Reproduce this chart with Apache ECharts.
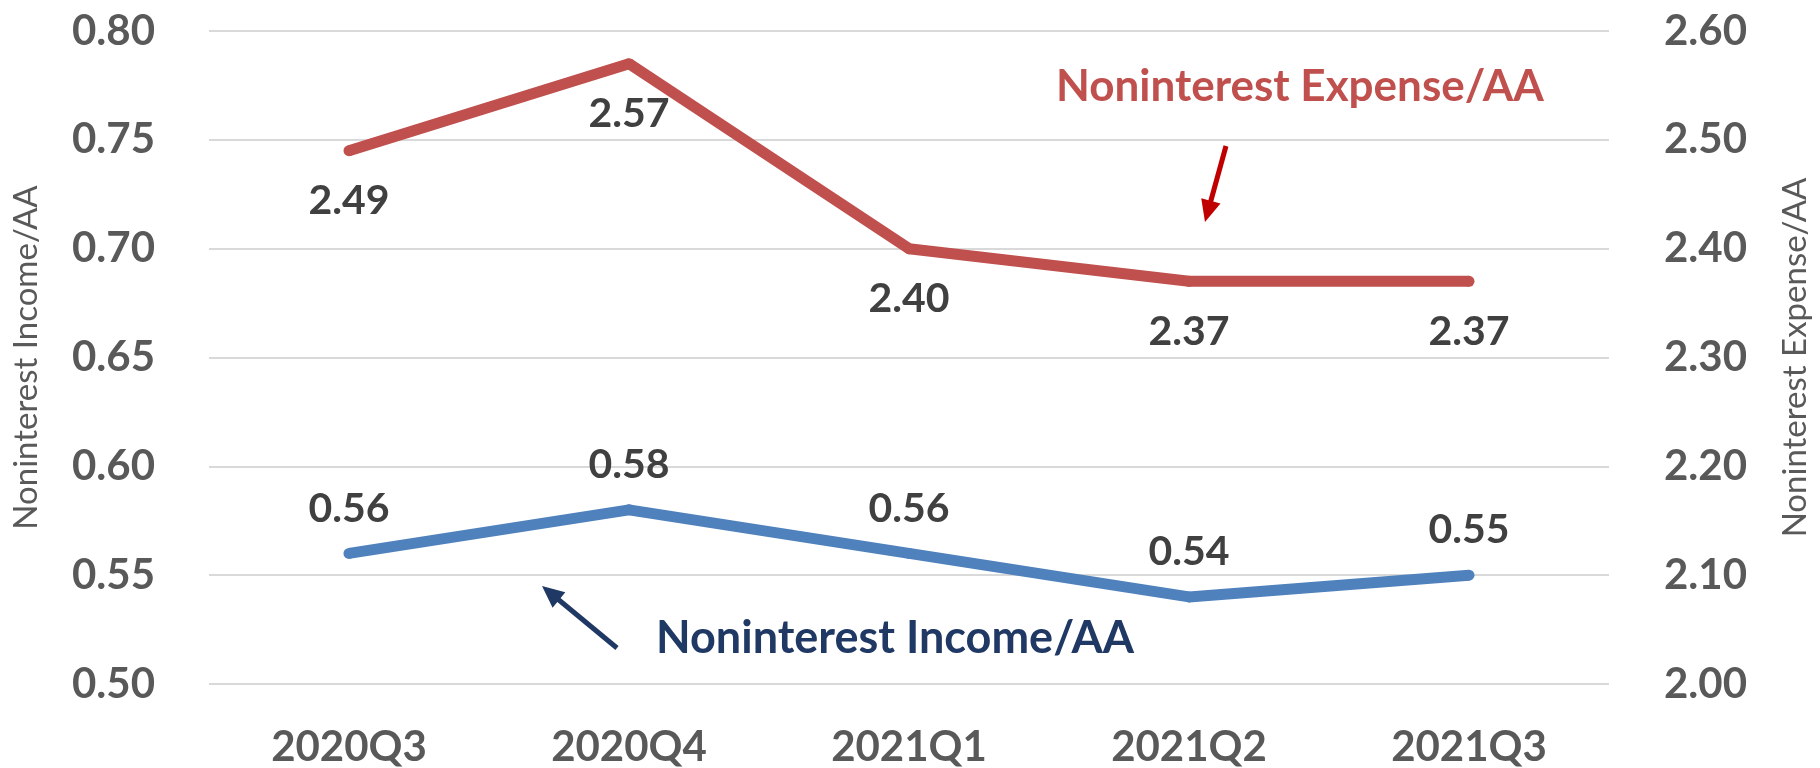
<!DOCTYPE html>
<html>
<head>
<meta charset="utf-8">
<title>Noninterest Income / Expense</title>
<script src="https://cdn.jsdelivr.net/npm/echarts@6/dist/echarts.min.js"></script>
<style>
  html, body { margin: 0; padding: 0; background: #ffffff; }
  #chart_main { width: 1820px; height: 768px; }
</style>
</head>
<body>
<div id="chart_main"></div>
<script>
// data
const quarters = ["2020Q3", "2020Q4", "2021Q1", "2021Q2", "2021Q3"];
const incomeAA = [0.56, 0.58, 0.56, 0.54, 0.55];
const expenseAA = [2.49, 2.57, 2.40, 2.37, 2.37];
const leftTicks = { min: 0.5, max: 0.8, step: 0.05 };
const rightTicks = { min: 2.0, max: 2.6, step: 0.1 };

const FONT = "Lato";
const GRAY = "#595959";

// arrow = line + triangle head, tail -> tip
function arrow(x1, y1, x2, y2, color) {
  let dx = x2 - x1, dy = y2 - y1;
  let len = Math.sqrt(dx * dx + dy * dy);
  let ux = dx / len, uy = dy / len;
  let head = 22, half = 10;
  let bx = x2 - ux * head, by = y2 - uy * head;
  return {
    type: "group",
    children: [
      {
        type: "line",
        shape: { x1: x1, y1: y1, x2: bx + ux * 2, y2: by + uy * 2 },
        style: { stroke: color, lineWidth: 5 }
      },
      {
        type: "polygon",
        shape: {
          points: [
            [x2, y2],
            [bx - uy * half, by + ux * half],
            [bx + uy * half, by - ux * half]
          ]
        },
        style: { fill: color }
      }
    ]
  };
}

let myChart = echarts.init(document.getElementById("chart_main"));
let option = {
  backgroundColor: "#ffffff",
  animation: false,
  grid: { left: 209, right: 200, top: 31, bottom: 83 },
  xAxis: {
    type: "category",
    data: quarters,
    boundaryGap: true,
    axisLine: { show: false },
    axisTick: { show: false },
    axisLabel: {
      margin: 42,
      color: GRAY,
      fontFamily: FONT,
      fontWeight: "bold",
      fontSize: 42
    }
  },
  yAxis: [
    {
      type: "value",
      min: leftTicks.min,
      max: leftTicks.max,
      interval: leftTicks.step,
      name: "Noninterest Income/AA",
      nameLocation: "middle",
      nameGap: 166,
      nameTextStyle: { color: GRAY, fontFamily: FONT, fontSize: 33 },
      axisLine: { show: false },
      axisTick: { show: false },
      axisLabel: {
        margin: 54,
        color: GRAY,
        fontFamily: FONT,
        fontWeight: "bold",
        fontSize: 42,
        formatter: function (v) { return v.toFixed(2); }
      },
      splitLine: { lineStyle: { color: "#d9d9d9", width: 2 } }
    },
    {
      type: "value",
      position: "right",
      min: rightTicks.min,
      max: rightTicks.max,
      interval: rightTicks.step,
      name: "Noninterest Expense/AA",
      nameLocation: "middle",
      nameGap: 170,
      nameTextStyle: { color: GRAY, fontFamily: FONT, fontSize: 33 },
      axisLine: { show: false },
      axisTick: { show: false },
      axisLabel: {
        margin: 55,
        color: GRAY,
        fontFamily: FONT,
        fontWeight: "bold",
        fontSize: 42,
        formatter: function (v) { return v.toFixed(2); }
      },
      splitLine: { show: false }
    }
  ],
  series: [
    {
      name: "Noninterest Income/AA",
      type: "line",
      yAxisIndex: 0,
      data: incomeAA,
      symbol: "circle",
      symbolSize: 11,
      itemStyle: { color: "#4f81bd" },
      lineStyle: { color: "#4f81bd", width: 11 },
      label: {
        show: true,
        position: "top",
        distance: 19,
        color: "#404040",
        fontFamily: FONT,
        fontWeight: "bold",
        fontSize: 41,
        formatter: function (p) { return p.value.toFixed(2); }
      }
    },
    {
      name: "Noninterest Expense/AA",
      type: "line",
      yAxisIndex: 1,
      data: expenseAA,
      symbol: "circle",
      symbolSize: 11,
      itemStyle: { color: "#c0504d" },
      lineStyle: { color: "#c0504d", width: 11 },
      label: {
        show: true,
        position: "bottom",
        distance: 24,
        color: "#404040",
        fontFamily: FONT,
        fontWeight: "bold",
        fontSize: 41,
        formatter: function (p) { return p.value.toFixed(2); }
      }
    }
  ],
  graphic: [
    {
      type: "text",
      left: 1056,
      top: 65,
      style: {
        text: "Noninterest Expense/AA",
        fill: "#c0504d",
        font: "bold 44px " + FONT
      }
    },
    {
      type: "text",
      left: 656,
      top: 616,
      style: {
        text: "Noninterest Income/AA",
        fill: "#1f3864",
        font: "bold 45px " + FONT
      }
    },
    arrow(1226, 146, 1205, 222, "#c00000"),
    arrow(617, 648, 542, 586, "#1f3864")
  ]
};
myChart.setOption(option);
</script>
</body>
</html>
